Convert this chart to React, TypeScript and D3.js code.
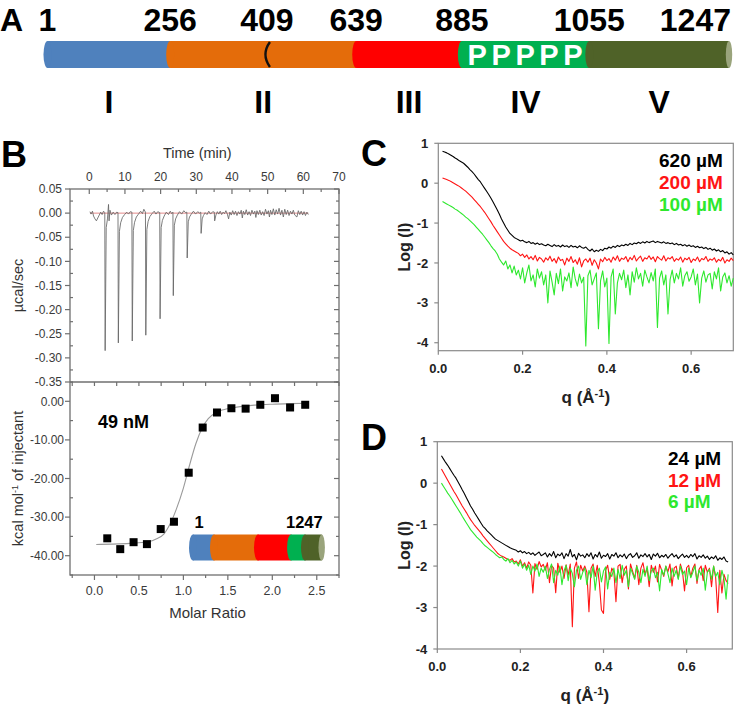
import React from 'react';
import * as d3 from 'd3';

const FONT = '"Liberation Sans", Arial, Helvetica, sans-serif';

// ---------------- Panel A data ----------------
const residueMarks = [1, 256, 409, 639, 885, 1055, 1247];
const segmentBounds = [1, 256, 639, 885, 1055, 1247];
const domainNames = ['I', 'II', 'III', 'IV', 'V'];
const domainColors = ['#4f81bd', '#e46c0a', '#ff0000', '#00b050', '#4f6228'];
const capColor = '#9aa47c';
const hingeResidue = 409;
const prolineLabel = 'PPPPP';
const prolineDomain = 3;

// ---------------- Panel B data ----------------
const itcTrace: [number, number][] = [
  [0.2, 0.003], [0.5, -0.002], [0.9, 0.004], [1.2, -0.006], [1.6, -0.012], [2.0, -0.016], [2.4, -0.010], [2.8, -0.004], [3.2, 0.002], [3.6, -0.003], [4.0, 0.004],
  [4.35, 0.001], [4.45, -0.285], [4.75, -0.03], [5.1, -0.012], [5.4, 0.018], [5.55, -0.016], [5.8, 0.006], [6.2, -0.004], [6.7, 0.002], [7.2, -0.003], [7.7, 0.002],
  [8.05, 0.001], [8.15, -0.269], [8.45, -0.038], [8.8, -0.02], [9.3, -0.009], [9.9, -0.003], [10.5, 0.002], [11.0, -0.002], [11.5, 0.003],
  [11.95, 0.002], [12.05, -0.265], [12.35, -0.036], [12.7, -0.019], [13.2, -0.008], [13.8, -0.002], [14.4, 0.004], [14.9, -0.001], [15.3, 0.008],
  [15.75, 0.002], [15.85, -0.253], [16.15, -0.034], [16.5, -0.017], [17.0, -0.007], [17.6, -0.001], [18.2, 0.004], [18.7, -0.002], [19.2, 0.003],
  [19.75, 0.001], [19.85, -0.219], [20.15, -0.03], [20.5, -0.015], [21.0, -0.006], [21.6, 0.002], [22.2, -0.003], [22.7, 0.004], [23.1, -0.001],
  [23.45, 0.002], [23.55, -0.171], [23.85, -0.025], [24.2, -0.012], [24.7, -0.004], [25.3, 0.003], [25.9, -0.002], [26.5, 0.005], [27.0, 0.001],
  [27.35, 0.002], [27.45, -0.093], [27.75, -0.018], [28.1, -0.008], [28.6, -0.002], [29.2, 0.004], [29.8, -0.002], [30.4, 0.003], [30.9, 0.0],
  [31.25, 0.002], [31.35, -0.042], [31.65, -0.012], [32.0, -0.005], [32.5, 0.001], [33.0, -0.003], [33.5, 0.004], [34.0, -0.002], [34.6, 0.003],
  [35.05, 0.002], [35.15, -0.016], [35.5, -0.004], [35.9, 0.003], [36.3, -0.002], [36.7, 0.004], [37.1, -0.003], [37.5, 0.002], [37.9, -0.001], [38.3, 0.005], [38.7, -0.002],
  [39.05, -0.012], [39.4, 0.002], [39.8, -0.004], [40.2, 0.005], [40.6, -0.003], [41.0, 0.004], [41.4, -0.005], [41.8, 0.003], [42.2, -0.002], [42.6, 0.006],
  [42.9, -0.01], [43.2, 0.004], [43.6, -0.003], [44.0, 0.007], [44.4, -0.004], [44.8, 0.003], [45.2, -0.005], [45.6, 0.006], [46.0, -0.002], [46.4, 0.004],
  [46.7, -0.009], [47.0, 0.005], [47.4, -0.003], [47.8, 0.006], [48.2, -0.004], [48.6, 0.003], [49.0, -0.005], [49.4, 0.008], [49.8, -0.002], [50.2, 0.005],
  [50.5, -0.008], [50.8, 0.006], [51.2, -0.003], [51.6, 0.009], [52.0, -0.004], [52.4, 0.007], [52.8, -0.002], [53.2, 0.010], [53.6, -0.004], [54.0, 0.006],
  [54.4, -0.008], [54.8, 0.008], [55.2, -0.003], [55.6, 0.006], [56.0, -0.005], [56.4, 0.004], [56.8, -0.002], [57.2, 0.006], [57.6, -0.004], [58.2, -0.008],
  [58.6, 0.005], [59.0, -0.003], [59.4, 0.004], [59.8, -0.004], [60.2, 0.003], [60.6, -0.005], [61.0, 0.002], [61.4, -0.003],
];
const itcRatio = [0.144, 0.29, 0.44, 0.59, 0.745, 0.894, 1.06, 1.217, 1.378, 1.54, 1.70, 1.865, 2.03, 2.20, 2.37];
const itcHeat = [-35.5, -38.3, -36.5, -37.0, -33.1, -31.2, -18.5, -6.8, -2.9, -1.8, -1.9, -0.9, 0.8, -1.6, -0.9];
const fitRatio = [0.02, 0.2, 0.4, 0.6, 0.7, 0.78, 0.85, 0.92, 1.0, 1.07, 1.14, 1.21, 1.28, 1.36, 1.46, 1.6, 1.8, 2.0, 2.2, 2.4];
const fitHeat = [-37.1, -37.0, -36.8, -36.4, -35.6, -34.4, -31.8, -28.0, -22.5, -16.5, -11.0, -7.0, -4.5, -3.0, -2.1, -1.5, -1.0, -0.75, -0.6, -0.5];
const kdLabel = '49 nM';

// ---------------- Panels C / D data (log I x 100) ----------------
const qStart = 0.01;
const qStep = 0.005;
const cBlack620 = [
  80, 78, 76, 73, 70, 67, 63, 60, 56, 53, 50, 45, 40, 34, 29, 23, 16, 9, 3, -5, -13, -21, -29, -38, -47, -57, -67, -78, -90, -100, -110, -118, -126, -131, -136, -139,
  -142, -145, -143, -147, -149, -146, -151, -149, -153, -150, -154, -152, -155,
  -157, -153, -156, -159, -154, -158, -156, -160, -155, -159, -157, -161, -156, -160, -158, -162, -157, -161, -163, -160,
  -166, -170, -165, -172, -168, -171, -166, -169, -163, -165,
  -160, -163, -158, -161, -156, -159, -155, -157, -153, -156,
  -151, -154, -150, -152, -148, -151, -147, -150, -146, -149,
  -147, -145, -149, -146, -148, -150, -147, -151, -149, -152,
  -150, -154, -151, -155, -153, -157, -154, -158, -155, -159,
  -157, -161, -158, -162, -160, -164, -161, -166, -163, -168,
  -165, -170, -167, -172, -169, -175, -172, -178, -174, -180,
];
const cRed200 = [
  13, 11, 9, 7, 4, 1, -2, -5, -8, -12, -16, -20, -25, -30, -35, -41, -47, -53, -59, -66, -73, -81, -89, -97, -106, -114, -122, -130, -138, -146, -152, -158, -163, -167, -170, -173,
  -176, -182, -178, -186, -180, -190, -184, -192, -181, -195, -186, -190, -198,
  -187, -193, -183, -196, -189, -200, -185, -194, -191, -205, -188, -196, -184, -199, -192, -203, -187, -210, -195, -190,
  -198, -188, -206, -192, -200, -215, -190, -197, -186, -194,
  -189, -198, -185, -193, -182, -196, -188, -191, -184, -197,
  -186, -192, -181, -195, -188, -183, -196, -187, -190, -182,
  -191, -185, -197, -184, -189, -193, -182, -195, -187, -190,
  -184, -196, -189, -193, -185, -198, -188, -192, -186, -199,
  -190, -194, -185, -197, -189, -192, -184, -196, -190, -193,
  -187, -198, -191, -195, -186, -200, -192, -196, -188, -194,
];
const cGreen100 = [
  -46, -49, -52, -55, -58, -61, -65, -68, -72, -76, -80, -85, -89, -94, -99, -104, -110, -116, -122, -128, -135, -142, -149, -157, -164, -170, -178, -190, -198, -205, -195, -215, -205, -225, -208, -230,
  -218, -240, -212, -250, -225, -205, -245, -230, -260, -215, -238, -222, -255,
  -230, -300, -220, -248, -280, -226, -252, -215, -270, -235, -245, -225, -262, -210, -240, -258, -228, -250, -236, -408,
  -232, -218, -255, -240, -225, -365, -245, -220, -260, -238,
  -402, -235, -215, -328, -250, -226, -242, -218, -262, -230,
  -280, -222, -248, -212, -240, -226, -258, -218, -235, -250,
  -224, -245, -215, -362, -238, -220, -255, -230, -328, -242,
  -218, -250, -226, -240, -212, -258, -232, -222, -246, -235,
  -215, -255, -228, -300, -238, -220, -248, -230, -226, -265,
  -222, -240, -212, -270, -235, -225, -250, -232, -258, -238,
];
const dBlack24 = [
  66, 58, 50, 43, 35, 27, 19, 12, 3, -6, -16, -25, -35, -45, -55, -63, -72, -80, -88, -96, -104, -109, -115, -120, -125, -130, -135, -138, -141, -144, -147, -150, -153, -156, -158, -160,
  -162, -166, -163, -168, -165, -170, -167, -172, -168, -174, -170, -166, -175,
  -172, -168, -178, -170, -176, -165, -180, -171, -175, -168, -182, -170, -176, -160, -178, -172, -185, -169, -176, -173,
  -180, -170, -177, -168, -183, -172, -178, -166, -181, -174,
  -177, -170, -183, -172, -176, -168, -180, -173, -178, -171,
  -182, -174, -170, -179, -175, -168, -181, -173, -177, -170,
  -178, -172, -184, -171, -176, -169, -180, -174, -178, -172,
  -181, -175, -170, -178, -173, -182, -176, -171, -179, -174,
  -180, -172, -177, -170, -183, -175, -179, -173, -181, -176,
  -184, -178, -182, -175, -186, -180, -184, -178, -188, -190,
];
const dRed12 = [
  34, 25, 16, 7, -2, -11, -20, -28, -37, -46, -55, -63, -71, -80, -88, -95, -102, -108, -114, -120, -127, -133, -139, -145, -151, -157, -163, -169, -173, -176, -178, -181, -184, -186, -182, -190,
  -188, -195, -185, -200, -192, -205, -190, -198, -265, -194, -208, -189, -202,
  -196, -210, -192, -240, -199, -205, -264, -193, -215, -200, -230, -197, -222, -195, -346, -205, -190, -230, -198, -212,
  -200, -215, -310, -205, -195, -225, -198, -240, -306, -314,
  -210, -198, -232, -205, -215, -286, -200, -196, -240, -208,
  -200, -255, -195, -212, -230, -198, -245, -205, -192, -220,
  -205, -250, -198, -215, -200, -238, -196, -210, -225, -200,
  -214, -195, -248, -205, -200, -230, -195, -212, -260, -204,
  -198, -226, -205, -195, -242, -208, -200, -235, -198, -215,
  -205, -250, -200, -228, -312, -210, -265, -220, -235, -242,
];
const dGreen6 = [
  0, -8, -16, -24, -31, -39, -47, -55, -63, -71, -80, -88, -96, -104, -112, -118, -124, -130, -135, -140, -146, -151, -155, -159, -163, -167, -172, -176, -180, -178, -184, -188, -182, -192, -186, -195,
  -190, -200, -188, -205, -195, -210, -198, -220, -200, -212, -195, -225, -205,
  -215, -200, -230, -208, -195, -240, -210, -222, -200, -245, -212, -198, -235, -205, -218, -250, -210, -200, -232, -215,
  -205, -245, -210, -228, -200, -258, -215, -205, -238, -212,
  -202, -255, -215, -225, -205, -240, -208, -230, -198, -222,
  -210, -250, -205, -218, -232, -200, -215, -240, -208, -225,
  -200, -235, -212, -205, -228, -215, -260, -208, -222, -200,
  -218, -240, -205, -225, -210, -232, -200, -220, -212, -245,
  -205, -228, -215, -200, -235, -210, -222, -205, -258, -215,
  -208, -232, -200, -225, -215, -245, -210, -230, -280, -220,
];
const cLegend = ['620 µM', '200 µM', '100 µM'];
const dLegend = ['24 µM', '12 µM', '6 µM'];
const seriesColors = ['#000000', '#ff1414', '#2ee82e'];
const saxsTicksY = [1, 0, -1, -2, -3, -4];
const saxsTicksX = [0, 0.2, 0.4, 0.6];

// ---------------- layout constants ----------------
const MAIN_FRAC = [0, 0.18, 0.322, 0.453, 0.608, 0.795, 1];
const INSET_FRAC = [0, 0.163, 0.505, 0.762, 0.87, 1];

function Cylinder({ scale, y, h, rx }: { scale: (v: number) => number; y: number; h: number; rx: number }) {
  const els: React.ReactNode[] = [];
  for (let i = 0; i < segmentBounds.length - 1; i++) {
    const xa = scale(segmentBounds[i]);
    const xb = scale(segmentBounds[i + 1]);
    els.push(<rect key={'r' + i} x={xa} y={y} width={xb - xa} height={h} fill={domainColors[i]} />);
    els.push(<ellipse key={'e' + i} cx={xa} cy={y + h / 2} rx={rx} ry={h / 2} fill={domainColors[i]} />);
  }
  const xe = scale(segmentBounds[segmentBounds.length - 1]);
  els.push(<ellipse key="cap" cx={xe} cy={y + h / 2} rx={rx * 0.8} ry={h / 2} fill={capColor} />);
  return <g>{els}</g>;
}

function SaxsPanel(props: {
  x0: number; x1: number; y0: number; y1: number; yDomain: [number, number]; xMax: number;
  series: number[][]; legend: string[]; legendX: number; legendY: number[]; letter: string; letterY: number;
}) {
  const { x0, x1, y0, y1, yDomain, xMax, series, legend, legendX, legendY, letter, letterY } = props;
  const xs = d3.scaleLinear().domain([0, xMax]).range([x0, x1]);
  const ys = d3.scaleLinear().domain(yDomain).range([y1, y0]);
  const line = d3.line<[number, number]>().x(d => xs(d[0])).y(d => ys(d[1]));
  const order = [1, 2, 0];
  const axisColor = '#8a8a8a';
  return (
    <g>
      <text x={361} y={letterY} fontFamily={FONT} fontWeight="bold" fontSize={36}>{letter}</text>
      <rect x={x0} y={y0} width={x1 - x0} height={y1 - y0} fill="none" stroke={axisColor} strokeWidth={1.2} />
      {order.map(si => {
        const vals = series[si];
        const pts: [number, number][] = vals.map((v, i) => [qStart + i * qStep, v / 100]);
        return <path key={si} d={line(pts) || ''} fill="none" stroke={seriesColors[si]} strokeWidth={1.1} strokeLinejoin="round" />;
      })}
      {saxsTicksY.map(t => (
        <g key={'y' + t}>
          <line x1={x0 - 4} x2={x0} y1={ys(t)} y2={ys(t)} stroke={axisColor} strokeWidth={1.2} />
          <text x={x0 - 10} y={ys(t)} dy="0.35em" textAnchor="end" fontFamily={FONT} fontWeight="bold" fontSize={13} fill="#222">{t}</text>
        </g>
      ))}
      {saxsTicksX.map(t => (
        <g key={'x' + t}>
          <line x1={xs(t)} x2={xs(t)} y1={y1} y2={y1 + 4} stroke={axisColor} strokeWidth={1.2} />
          <text x={xs(t)} y={y1 + 22} textAnchor="middle" fontFamily={FONT} fontWeight="bold" fontSize={13} fill="#222">{t.toFixed(1)}</text>
        </g>
      ))}
      <text transform={`translate(404,${(y0 + y1) / 2}) rotate(-90)`} textAnchor="middle" dy="0.35em" fontFamily={FONT} fontWeight="bold" fontSize={16} fill="#222">Log (I)</text>
      <text x={(x0 + x1) / 2} y={y1 + 52} textAnchor="middle" fontFamily={FONT} fontWeight="bold" fontSize={17} fill="#222">
        q (Å<tspan baselineShift="super" fontSize={11}>-1</tspan>)
      </text>
      {legend.map((l, i) => (
        <text key={l} x={legendX} y={legendY[i]} fontFamily={FONT} fontWeight="bold" fontSize={19} fill={seriesColors[i]}>{l}</text>
      ))}
    </g>
  );
}

export default function App() {
  // ---------- Panel A ----------
  const barX0 = 47.5, barX1 = 729, barY = 41, barH = 27;
  const mainScale = d3.scaleLinear().domain(residueMarks).range(MAIN_FRAC.map(f => barX0 + f * (barX1 - barX0)));
  const hx = mainScale(hingeResidue);
  const pSeg0 = mainScale(segmentBounds[prolineDomain]);
  const pSeg1 = mainScale(segmentBounds[prolineDomain + 1]);

  // ---------- Panel B ----------
  const L = 70, R = 339, T = 189, M = 382, B = 575;
  const tScale = d3.scaleLinear().domain([-5.4, 70]).range([L, R]);
  const pScale = d3.scaleLinear().domain([-0.35, 0.05]).range([M, T]);
  const rScale = d3.scaleLinear().domain([-0.275, 2.75]).range([L, R]);
  const hScale = d3.scaleLinear().domain([-45, 5]).range([B, M]);
  const traceLine = d3.line<[number, number]>().x(d => tScale(d[0])).y(d => pScale(d[1]));
  const fitLine = d3.line<[number, number]>().x(d => rScale(d[0])).y(d => hScale(d[1])).curve(d3.curveMonotoneX);
  const insetScale = d3.scaleLinear().domain(segmentBounds).range(INSET_FRAC.map(f => 193 + f * 128.7));
  const frame = '#6f6f6f';
  const tickLbl = '#3a3a3a';

  const timeTicks = d3.range(0, 15).map(k => k * 5);
  const powTicks = d3.range(-14, 3).map(k => k);
  const heatTicks = d3.range(-9, 2).map(k => k);
  const ratioTicks = d3.range(-1, 12).map(k => k);

  return (
    <svg width={745} height={705} style={{ position: 'absolute', left: 0, top: 0, background: '#fff' }}>
      <rect width={745} height={705} fill="#fff" />
      {/* ---------------- Panel A ---------------- */}
      <text x={0} y={31} fontFamily={FONT} fontWeight="bold" fontSize={32}>A</text>
      {residueMarks.map((r, i) => (
        <text key={r} x={i === residueMarks.length - 1 ? barX1 + 2 : mainScale(r)} y={31}
          textAnchor={i === residueMarks.length - 1 ? 'end' : 'middle'}
          fontFamily={FONT} fontWeight="bold" fontSize={32}>{r}</text>
      ))}
      <Cylinder scale={mainScale} y={barY} h={barH} rx={4} />
      <path d={`M${hx + 3},${barY + 1} Q${hx - 6},${barY + barH / 2} ${hx + 3},${barY + barH - 1}`} fill="none" stroke="#111" strokeWidth={2.4} />
      <text x={(pSeg0 + pSeg1) / 2 - 0.5} y={barY + barH - 3} textAnchor="middle" textLength={115} lengthAdjust="spacing"
        fontFamily={FONT} fontWeight="bold" fontSize={29} fill="#fff">{prolineLabel}</text>
      {domainNames.map((n, i) => (
        <text key={n} x={(mainScale(segmentBounds[i]) + mainScale(segmentBounds[i + 1])) / 2} y={113}
          textAnchor="middle" fontFamily={FONT} fontWeight="bold" fontSize={32}>{n}</text>
      ))}

      {/* ---------------- Panel B ---------------- */}
      <text x={1} y={167} fontFamily={FONT} fontWeight="bold" fontSize={36}>B</text>
      <text x={(tScale(0) + tScale(60)) / 2 + 1} y={158} textAnchor="middle" fontFamily={FONT} fontSize={14.5} fill="#333">Time (min)</text>
      {/* frame */}
      <rect x={L} y={T} width={R - L} height={B - T} fill="none" stroke={frame} strokeWidth={1.3} />
      <line x1={L} x2={R} y1={M} y2={M} stroke={frame} strokeWidth={1.3} />
      {/* top time axis */}
      {timeTicks.map(t => (
        <g key={'t' + t}>
          <line x1={tScale(t)} x2={tScale(t)} y1={T} y2={T + (t % 10 === 0 ? 5 : 3)} stroke={frame} strokeWidth={1.2} />
          {t % 10 === 0 && (
            <text x={tScale(t)} y={181} textAnchor="middle" fontFamily={FONT} fontSize={12} fill={tickLbl}>{t}</text>
          )}
        </g>
      ))}
      {/* power y axis */}
      {powTicks.map(k => {
        const y = pScale(k * 0.025);
        const major = k % 2 === 0;
        return (
          <g key={'p' + k}>
            {major ? <line x1={L - 5} x2={L} y1={y} y2={y} stroke={frame} strokeWidth={1.2} />
              : <line x1={L} x2={L + 3} y1={y} y2={y} stroke={frame} strokeWidth={1.2} />}
            <line x1={R - (major ? 5 : 3)} x2={R} y1={y} y2={y} stroke={frame} strokeWidth={1.2} />
            {major && <text x={62} y={y} dy="0.35em" textAnchor="end" fontFamily={FONT} fontSize={12} fill={tickLbl}>{(k * 0.025).toFixed(2)}</text>}
          </g>
        );
      })}
      {/* heat y axis */}
      {heatTicks.map(k => {
        const v = k * 5;
        const y = hScale(v);
        const major = k % 2 === 0;
        return (
          <g key={'h' + k}>
            {major ? <line x1={L - 5} x2={L} y1={y} y2={y} stroke={frame} strokeWidth={1.2} />
              : <line x1={L} x2={L + 3} y1={y} y2={y} stroke={frame} strokeWidth={1.2} />}
            <line x1={R - (major ? 5 : 3)} x2={R} y1={y} y2={y} stroke={frame} strokeWidth={1.2} />
            {major && v <= 0 && v >= -40 && <text x={64} y={y} dy="0.35em" textAnchor="end" fontFamily={FONT} fontSize={12} fill={tickLbl}>{v.toFixed(2)}</text>}
          </g>
        );
      })}
      {/* ratio axis */}
      {ratioTicks.map(k => {
        const v = k * 0.25;
        const x = rScale(v);
        const major = k % 2 === 0;
        return (
          <g key={'r' + k}>
            <line x1={x} x2={x} y1={B} y2={B + (major ? 5 : 3)} stroke={frame} strokeWidth={1.2} />
            <line x1={x} x2={x} y1={M} y2={M + 4} stroke={frame} strokeWidth={1.2} />
            {major && v >= 0 && v <= 2.5 && <text x={x} y={595} textAnchor="middle" fontFamily={FONT} fontSize={12.5} fill={tickLbl}>{v.toFixed(1)}</text>}
          </g>
        );
      })}
      {/* raw thermogram */}
      <line x1={tScale(itcTrace[0][0])} x2={tScale(itcTrace[itcTrace.length - 1][0])} y1={pScale(0)} y2={pScale(0)} stroke="#e58a8a" strokeWidth={1} />
      <path d={traceLine(itcTrace) || ''} fill="none" stroke="#666" strokeWidth={0.85} strokeLinejoin="round" />
      {/* integrated heats */}
      <path d={fitLine(fitRatio.map((r, i) => [r, fitHeat[i]] as [number, number])) || ''} fill="none" stroke="#9a9a9a" strokeWidth={1.1} />
      {itcRatio.map((r, i) => (
        <rect key={'s' + i} x={rScale(r) - 4} y={hScale(itcHeat[i]) - 4} width={8} height={8} fill="#000" />
      ))}
      <text x={98} y={428} fontFamily={FONT} fontWeight="bold" fontSize={18}>{kdLabel}</text>
      <Cylinder scale={insetScale} y={534.5} h={26} rx={4} />
      <text x={insetScale(segmentBounds[0]) + 6} y={528} textAnchor="middle" fontFamily={FONT} fontWeight="bold" fontSize={16.5}>{segmentBounds[0]}</text>
      <text x={insetScale(segmentBounds[segmentBounds.length - 1]) + 1} y={528} textAnchor="end" fontFamily={FONT} fontWeight="bold" fontSize={16.5}>{segmentBounds[segmentBounds.length - 1]}</text>
      <text x={(L + R) / 2 + 3} y={618} textAnchor="middle" fontFamily={FONT} fontSize={15} fill="#333">Molar Ratio</text>
      <text transform={`translate(18,${pScale(-0.15)}) rotate(-90)`} textAnchor="middle" dy="0.35em" fontFamily={FONT} fontSize={14.5} fill="#333">µcal/sec</text>
      <text transform={`translate(18,${hScale(-20)}) rotate(-90)`} textAnchor="middle" dy="0.35em" fontFamily={FONT} fontSize={14.5} fill="#333">
        kcal mol<tspan baselineShift="super" fontSize={9}>-1</tspan> of injectant
      </text>

      {/* ---------------- Panel C ---------------- */}
      <SaxsPanel x0={438.3} x1={733.3} y0={143.3} y1={350.7} yDomain={[-4.2, 1]} xMax={0.7}
        series={[cBlack620, cRed200, cGreen100]} legend={cLegend} legendX={659} legendY={[166.5, 189, 210.5]} letter="C" letterY={166} />
      {/* ---------------- Panel D ---------------- */}
      <SaxsPanel x0={437.3} x1={732.3} y0={441.7} y1={649} yDomain={[-4, 1]} xMax={0.71}
        series={[dBlack24, dRed12, dGreen6]} legend={dLegend} legendX={668} legendY={[465, 486.5, 508]} letter="D" letterY={450} />
    </svg>
  );
}
